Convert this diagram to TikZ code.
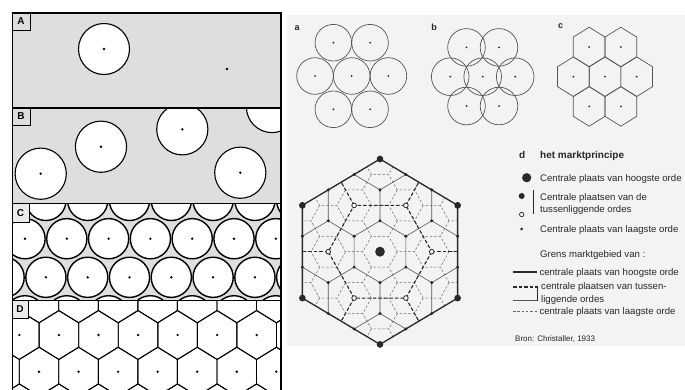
\documentclass[tikz,border=0pt]{standalone}
\usepackage{fontspec}
\setmainfont{Liberation Sans}
\definecolor{panelgray}{RGB}{222,222,222}
\definecolor{pagegray}{RGB}{243,243,243}
\definecolor{ink}{RGB}{40,40,40}
\definecolor{midink}{RGB}{85,85,85}
\definecolor{lowink}{RGB}{105,105,105}
\begin{document}
\begin{tikzpicture}[x=1pt,y=-1pt,
  circ/.style={draw=black, fill=white, line width=1.1pt},
  circC/.style={draw=black, fill=white, line width=1.4pt},
  hexD/.style={draw=black, line width=0.9pt, line join=miter},
  frameline/.style={draw=black, line width=1.4pt},
  lblbox/.style={draw=black, line width=0.8pt},
  lbl/.style={font=\bfseries\fontsize{10}{10}\selectfont, inner sep=0pt},
  thinc/.style={draw=midink, line width=0.7pt},
  highline/.style={draw=ink, line width=1.3pt, line join=miter},
  interline/.style={draw=ink, line width=1.1pt, dash pattern=on 3.5pt off 2pt},
  midline/.style={draw=midink, line width=0.6pt},
  lowline/.style={draw=lowink, line width=0.5pt, dash pattern=on 2.5pt off 1.8pt},
  legtxt/.style={anchor=base west, inner sep=0pt, text=ink, font=\fontsize{9.6}{11}\selectfont},
  sublbl/.style={inner sep=0pt, text=ink, font=\bfseries\fontsize{9}{9}\selectfont}
]
\useasboundingbox (0,0) rectangle (685,389);
\fill[white] (0,0) rectangle (685,389);

% ---------------- left panel ----------------
\fill[panelgray] (12.3,13) rectangle (281,300.7);
\fill[white] (12.3,300.7) rectangle (281,392);

% A
\draw[circ] (104,49) circle[radius=25.5pt];
\fill (104,49) circle[radius=1.3pt];
\fill (227,69) circle[radius=1.3pt];

% B
\begin{scope}
\clip (12.3,108) rectangle (281,203.3);
\foreach \p in {(40.7,173.7),(101,146.7),(182.3,129.3),(240.3,172.7),(272,107)}{
  \draw[circ] \p circle[radius=25.6pt];
  \fill \p circle[radius=1.3pt];
}
\end{scope}

% C
\begin{scope}
\clip (12.3,203.3) rectangle (281,300.7);
\foreach \yy/\xo in {200.4/45.9, 238.7/25, 277.3/45.9, 315.8/25}{
  \foreach \k in {-1,...,6}{
    \draw[circC] ({\xo+41.8*(\k)},\yy) circle[radius=20.1pt];
    \fill ({\xo+41.8*(\k)},\yy) circle[radius=1.3pt];
  }
}
\end{scope}

% D
\begin{scope}
\clip (12.3,300.7) rectangle (281,392);
\foreach \yy/\xo in {298.3/39, 335/19.4, 371.7/39, 408.4/19.4}{
  \foreach \k in {-1,...,7}{
    \draw[hexD] ({\xo+39.55*(\k)},{\yy-24.47}) -- ++(19.78,12.24) -- ++(0,24.46) -- ++(-19.78,12.24) -- ++(-19.78,-12.24) -- ++(0,-24.46) -- cycle;
    \fill ({\xo+39.55*(\k)},\yy) circle[radius=1.3pt];
  }
}
\end{scope}

% frame and dividers
\draw[frameline] (12.3,392) -- (12.3,13) -- (281,13);
\draw[draw=black, line width=2pt] (281,12.3) -- (281,392);
\draw[frameline] (12.3,108) -- (281,108);
\draw[frameline] (12.3,203.3) -- (281,203.3);
\draw[frameline] (12.3,300.7) -- (281,300.7);

% label boxes
\draw[lblbox, fill=panelgray] (12.3,13) rectangle (30,30);
\node[lbl] (labA) at (21,21.5) {A};
\draw[lblbox, fill=panelgray] (12.3,108) rectangle (30,125);
\node[lbl] (labB) at (21,116.5) {B};
\draw[lblbox, fill=panelgray!60] (12.3,203.3) rectangle (29,222);
\node[lbl] (labC) at (20.6,212.6) {C};
\draw[lblbox, fill=panelgray!60] (12.3,300.7) rectangle (28,318);
\node[lbl] (labD) at (20.1,309.4) {D};

% ---------------- right part ----------------
\fill[pagegray] (287,15) rectangle (685,346);

% a
\node[sublbl] (laba) at (297,28.3) {a};
\foreach \p in {(333.35,42.7),(370.05,42.7),(315,76),(351.7,76),(388.4,76),(333.35,109.3),(370.05,109.3)}{
  \draw[thinc] \p circle[radius=18.3pt];
  \fill[ink] \p circle[radius=1pt];
}
% b
\node[sublbl] (labb) at (434,27.5) {b};
\foreach \p in {(466.5,47.4),(499,47.4),(450.2,76.7),(482.7,76.7),(515.2,76.7),(466.5,106),(499,106)}{
  \draw[thinc] \p circle[radius=18.8pt];
  \fill[ink] \p circle[radius=1pt];
}
% c
\node[sublbl] (labc) at (560.7,26.5) {c};
\foreach \p in {(589.15,47),(620.85,47),(573.3,76.7),(605,76.7),(636.7,76.7),(589.15,106.4),(620.85,106.4)}{
  \draw[thinc, line join=miter] \p ++(0,-19.8) -- ++(15.85,9.9) -- ++(0,19.8) -- ++(-15.85,9.9) -- ++(-15.85,-9.9) -- ++(0,-19.8) -- cycle;
  \fill[ink] \p circle[radius=1pt];
}

% d : market principle
\begin{scope}[shift={(380,251.7)}, xscale=0.967]
  \begin{scope}
    \clip (90:92.7) -- (30:92.7) -- (-30:92.7) -- (-90:92.7) -- (-150:92.7) -- (150:92.7) -- cycle;
    % lowest order boundaries
    \foreach \a in {-4,...,4}{
      \foreach \b in {-4,...,4}{
        \draw[lowline] ({26.76*(\a)+17.84},{15.45*(\a)+30.9*(\b)}) -- ++(-8.92,15.45) -- ++(-17.84,0) -- ++(-8.92,-15.45);
      }
    }
    % intermediate (thin solid) boundaries
    \foreach \i in {-3,...,3}{
      \foreach \j in {-3,...,3}{
        \draw[midline] ({53.52*(\i)+26.76*(\j)+26.76},{46.35*(\j)-15.45}) -- ++(0,30.9) -- ++(-26.76,15.45) -- ++(-26.76,-15.45);
      }
    }
    % intermediate (thick dashed) boundaries
    \draw[interline] (0:53.52) -- (60:53.52) -- (120:53.52) -- (180:53.52) -- (240:53.52) -- (300:53.52) -- cycle;
    \foreach \t in {0,60,...,300}{
      \draw[interline] (\t:53.52) -- (\t:84);
    }
  \end{scope}
  % highest order boundary
  \draw[highline] (90:92.7) -- (30:92.7) -- (-30:92.7) -- (-90:92.7) -- (-150:92.7) -- (150:92.7) -- cycle;
  % central places
  \foreach \a in {-3,...,3}{
    \foreach \b in {-3,...,3}{
      \pgfmathtruncatemacro{\dd}{max(abs(\a),abs(\b),abs((\a)+(\b)))}
      \pgfmathtruncatemacro{\mm}{mod((\a)-(\b)+9,3)}
      \ifnum\dd<4
        \ifnum\mm=0
          \ifnum\dd=0 \fill[ink] (0,0) circle[radius=5pt];\fi
          \ifnum\dd=2 \draw[ink,fill=white,line width=0.8pt] ({26.76*(\a)},{15.45*(\a)+30.9*(\b)}) circle[radius=2.4pt];\fi
          \ifnum\dd=3 \fill[ink] ({26.76*(\a)},{15.45*(\a)+30.9*(\b)}) circle[radius=3.4pt];\fi
        \else
          \fill[ink] ({26.76*(\a)},{15.45*(\a)+30.9*(\b)}) circle[radius=1.7pt];
        \fi
      \fi
    }
  }
\end{scope}

% legend
\node[legtxt, font=\bfseries\fontsize{10}{11}\selectfont] (ld) at (519,158.6) {d};
\node[legtxt, font=\bfseries\fontsize{10}{11}\selectfont] (ltitle) at (540,158.6) {het marktprincipe};

\fill[ink] (526.7,177.7) circle[radius=4.6pt];
\node[legtxt] (l1) at (540,181) {Centrale plaats van hoogste orde};
\fill[ink] (521.7,196) circle[radius=3pt];
\draw[ink,fill=white,line width=0.7pt] (521.7,214.5) circle[radius=2.2pt];
\draw[ink,line width=0.7pt] (533,190) -- (533,214);
\node[legtxt] (l2) at (540,200) {Centrale plaatsen van de};
\node[legtxt] (l3) at (540,212.3) {tussenliggende ordes};
\fill[ink] (521.7,229) circle[radius=1.5pt];
\node[legtxt] (l4) at (540,232.3) {Centrale plaats van laagste orde};

\node[legtxt] (l5) at (540,257.3) {Grens marktgebied van :};
\draw[highline] (513,272) -- (536.5,272);
\node[legtxt] (l6) at (539.3,275.3) {centrale plaats van hoogste orde};
\draw[interline] (513,287) -- (536.5,287);
\draw[midline] (513,300.7) -- (537.5,300.7);
\draw[ink,line width=0.6pt] (537.5,285.5) -- (537.5,300.7);
\node[legtxt] (l7) at (541,289.8) {centrale plaatsen van tussen-};
\node[legtxt] (l8) at (541,302.3) {liggende ordes};
\draw[lowline] (513,311) -- (536.5,311);
\node[legtxt] (l9) at (539.3,314.3) {centrale plaats van laagste orde};
\node[legtxt, font=\fontsize{8}{9}\selectfont] (lsrc) at (515,341) {Bron: Christaller, 1933};
\end{tikzpicture}
\end{document}
